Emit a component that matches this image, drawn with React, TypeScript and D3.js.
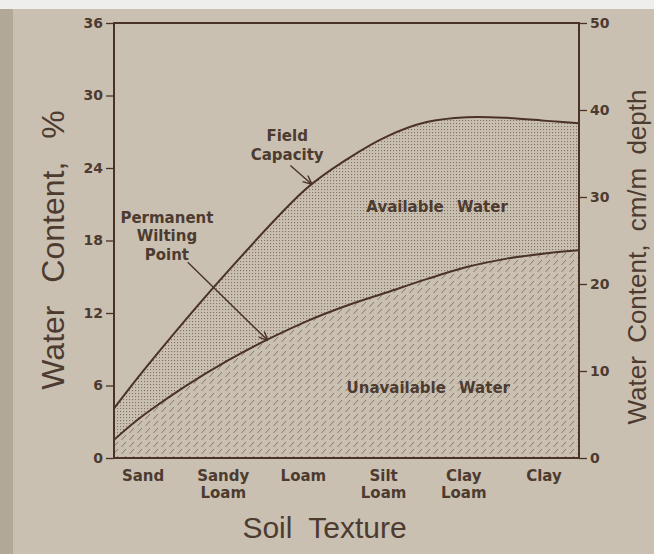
import React, { useRef, useEffect } from "react";
import * as d3 from "d3";

// soil textures along the bottom axis
const textures = ["Sand", "Sandy Loam", "Loam", "Silt Loam", "Clay Loam", "Clay"];
// sample positions along the texture axis (0 = Sand ... 5 = Clay, frame runs -0.4 .. 5.4)
const curveX = [-0.4, 0, 1, 2, 2.5, 3, 3.5, 4, 4.5, 5, 5.4];
// water content, % at those positions
const fieldCapacity = [4.1, 7.5, 15.3, 22.3, 24.7, 26.6, 27.8, 28.2, 28.15, 27.9, 27.7];
const wiltingPoint = [1.5, 3.7, 8.0, 11.3, 12.6, 13.7, 14.8, 15.8, 16.5, 16.95, 17.2];
const percentTicks = [0, 6, 12, 18, 24, 30, 36];
const depthTicks = [0, 10, 20, 30, 40, 50];

const W = 654;
const H = 554;
const M = { left: 114, right: 75, top: 23, bottom: 96 };

const INK = "#4a3226";
const TEXT = "#4d3b30";
const PAPER = "#c9c0b2";
const LABEL_FONT = "'DejaVu Sans', Verdana, sans-serif";
const TITLE_FONT = "'Liberation Sans', Arial, sans-serif";

const App: React.FC = () => {
	const svgRef = useRef<SVGSVGElement | null>(null);

	useEffect(() => {
		if (!svgRef.current) return;
		const svg = d3.select(svgRef.current);
		svg.selectAll("*").remove();

		const x0 = M.left;
		const x1 = W - M.right;
		const yb = H - M.bottom;
		const yt = M.top;

		const x = d3.scaleLinear().domain([-0.4, 5.4]).range([x0, x1]);
		const cat = d3.scalePoint<string>().domain(textures).range([x0, x1]).padding(0.4);
		const y = d3.scaleLinear().domain([0, 36]).range([yb, yt]);
		const yR = d3.scaleLinear().domain([0, 50]).range([yb, yt]);

		const fcAt = d3.scaleLinear().domain(curveX).range(fieldCapacity);
		const wpAt = d3.scaleLinear().domain(curveX).range(wiltingPoint);

		const defs = svg.append("defs");
		const dots = defs
			.append("pattern")
			.attr("id", "dots")
			.attr("width", 3)
			.attr("height", 3)
			.attr("patternUnits", "userSpaceOnUse");
		dots.append("rect").attr("width", 1.1).attr("height", 1.1).attr("fill", "#6e5a4c").attr("opacity", 0.75);

		const hatch = defs
			.append("pattern")
			.attr("id", "hatch")
			.attr("width", 8)
			.attr("height", 7)
			.attr("patternUnits", "userSpaceOnUse");
		hatch
			.append("line")
			.attr("x1", 1.5)
			.attr("y1", 6)
			.attr("x2", 6)
			.attr("y2", 1)
			.attr("stroke", "#8a7667")
			.attr("stroke-width", 1);

		defs
			.append("marker")
			.attr("id", "arrow")
			.attr("viewBox", "0 0 10 10")
			.attr("refX", 10)
			.attr("refY", 5)
			.attr("markerWidth", 10)
			.attr("markerHeight", 10)
			.attr("markerUnits", "userSpaceOnUse")
			.attr("orient", "auto")
			.append("path")
			.attr("d", "M1,1 L10,5 L1,9")
			.attr("fill", "none")
			.attr("stroke", INK)
			.attr("stroke-width", 1.4);

		// paper
		svg.append("rect").attr("width", W).attr("height", H).attr("fill", PAPER);
		svg.append("rect").attr("width", 13).attr("height", H).attr("fill", "#b2a898");
		svg.append("rect").attr("width", W).attr("height", 9).attr("fill", "#eeeeec");

		const pts = curveX.map((cx, i) => ({ x: cx, fc: fieldCapacity[i], wp: wiltingPoint[i] }));
		type P = (typeof pts)[number];
		const curve = d3.curveCatmullRom.alpha(0.5);

		const availArea = d3
			.area<P>()
			.x((d) => x(d.x))
			.y0((d) => y(d.wp))
			.y1((d) => y(d.fc))
			.curve(curve);
		const unavailArea = d3
			.area<P>()
			.x((d) => x(d.x))
			.y0(y(0))
			.y1((d) => y(d.wp))
			.curve(curve);

		svg.append("path").attr("d", unavailArea(pts)).attr("fill", "url(#hatch)");
		svg.append("path").attr("d", availArea(pts)).attr("fill", "url(#dots)");

		const fcLine = d3.line<P>().x((d) => x(d.x)).y((d) => y(d.fc)).curve(curve);
		const wpLine = d3.line<P>().x((d) => x(d.x)).y((d) => y(d.wp)).curve(curve);
		svg.append("path").attr("d", fcLine(pts)).attr("fill", "none").attr("stroke", INK).attr("stroke-width", 2);
		svg.append("path").attr("d", wpLine(pts)).attr("fill", "none").attr("stroke", INK).attr("stroke-width", 2);

		// frame
		svg
			.append("rect")
			.attr("x", x0)
			.attr("y", yt)
			.attr("width", x1 - x0)
			.attr("height", yb - yt)
			.attr("fill", "none")
			.attr("stroke", INK)
			.attr("stroke-width", 2);

		const styleAxis = (g: d3.Selection<SVGGElement, unknown, null, undefined>) => {
			g.select(".domain").remove();
			g.selectAll(".tick line").attr("stroke", INK).attr("stroke-width", 1.3);
			g.selectAll(".tick text")
				.attr("fill", TEXT)
				.attr("font-family", LABEL_FONT)
				.attr("font-weight", "bold")
				.attr("font-size", 14);
		};

		svg
			.append("g")
			.attr("transform", `translate(${x0},0)`)
			.call(d3.axisLeft(y).tickValues(percentTicks).tickSize(8).tickPadding(3))
			.call(styleAxis);

		svg
			.append("g")
			.attr("transform", `translate(${x1},0)`)
			.call(d3.axisRight(yR).tickValues(depthTicks).tickSize(8).tickPadding(3))
			.call(styleAxis);

		// texture labels
		const lab = svg
			.append("g")
			.attr("font-family", LABEL_FONT)
			.attr("font-weight", "bold")
			.attr("font-size", 15)
			.attr("fill", TEXT)
			.attr("text-anchor", "middle");
		textures.forEach((t) => {
			const words = t.split(" ");
			const txt = lab.append("text").attr("x", cat(t)! - 3).attr("y", yb + 23);
			words.forEach((w, i) => {
				txt.append("tspan").attr("x", cat(t)! - 3).attr("dy", i === 0 ? 0 : 17).text(w);
			});
		});

		// axis titles
		const titles = svg.append("g").attr("font-family", TITLE_FONT).attr("fill", TEXT).attr("text-anchor", "middle");
		titles
			.append("text")
			.attr("transform", `translate(64,250) rotate(-90)`)
			.attr("font-size", 32)
			.attr("word-spacing", 14)
			.text("Water Content, %");
		titles
			.append("text")
			.attr("transform", `translate(646,257) rotate(-90)`)
			.attr("font-size", 26)
			.attr("word-spacing", 6)
			.text("Water Content, cm/m depth");
		titles
			.append("text")
			.attr("x", (x0 + x1) / 2 - 22)
			.attr("y", 538)
			.attr("font-size", 30)
			.attr("word-spacing", 8)
			.text("Soil Texture");

		// annotations
		const ann = svg
			.append("g")
			.attr("font-family", LABEL_FONT)
			.attr("font-weight", "bold")
			.attr("font-size", 15)
			.attr("fill", TEXT)
			.attr("text-anchor", "middle");

		const multi = (lines: string[], cx: number, v: number) => {
			const txt = ann.append("text").attr("x", x(cx)).attr("y", y(v));
			lines.forEach((l, i) => txt.append("tspan").attr("x", x(cx)).attr("dy", i === 0 ? 0 : 18.5).text(l));
		};
		multi(["Field", "Capacity"], 1.76, 26.2);
		multi(["Permanent", "Wilting", "Point"], 0.26, 19.45);
		ann.append("text").attr("x", x(3.63)).attr("y", y(20.4)).attr("word-spacing", 8).text("Available Water");
		ann.append("text").attr("x", x(3.52)).attr("y", y(5.4)).attr("word-spacing", 8).text("Unavailable Water");

		const arrows = [
			{ from: [1.8, 24.2], to: 2.07, at: fcAt },
			{ from: [0.52, 16.2], to: 1.52, at: wpAt },
		];
		arrows.forEach((a) => {
			svg
				.append("line")
				.attr("x1", x(a.from[0]))
				.attr("y1", y(a.from[1]))
				.attr("x2", x(a.to))
				.attr("y2", y(a.at(a.to)))
				.attr("stroke", INK)
				.attr("stroke-width", 1.4)
				.attr("marker-end", "url(#arrow)");
		});
	}, []);

	return (
		<svg
			ref={svgRef}
			width={W}
			height={H}
			style={{ position: "absolute", left: 0, top: 0, display: "block" }}
		/>
	);
};

export default App;
